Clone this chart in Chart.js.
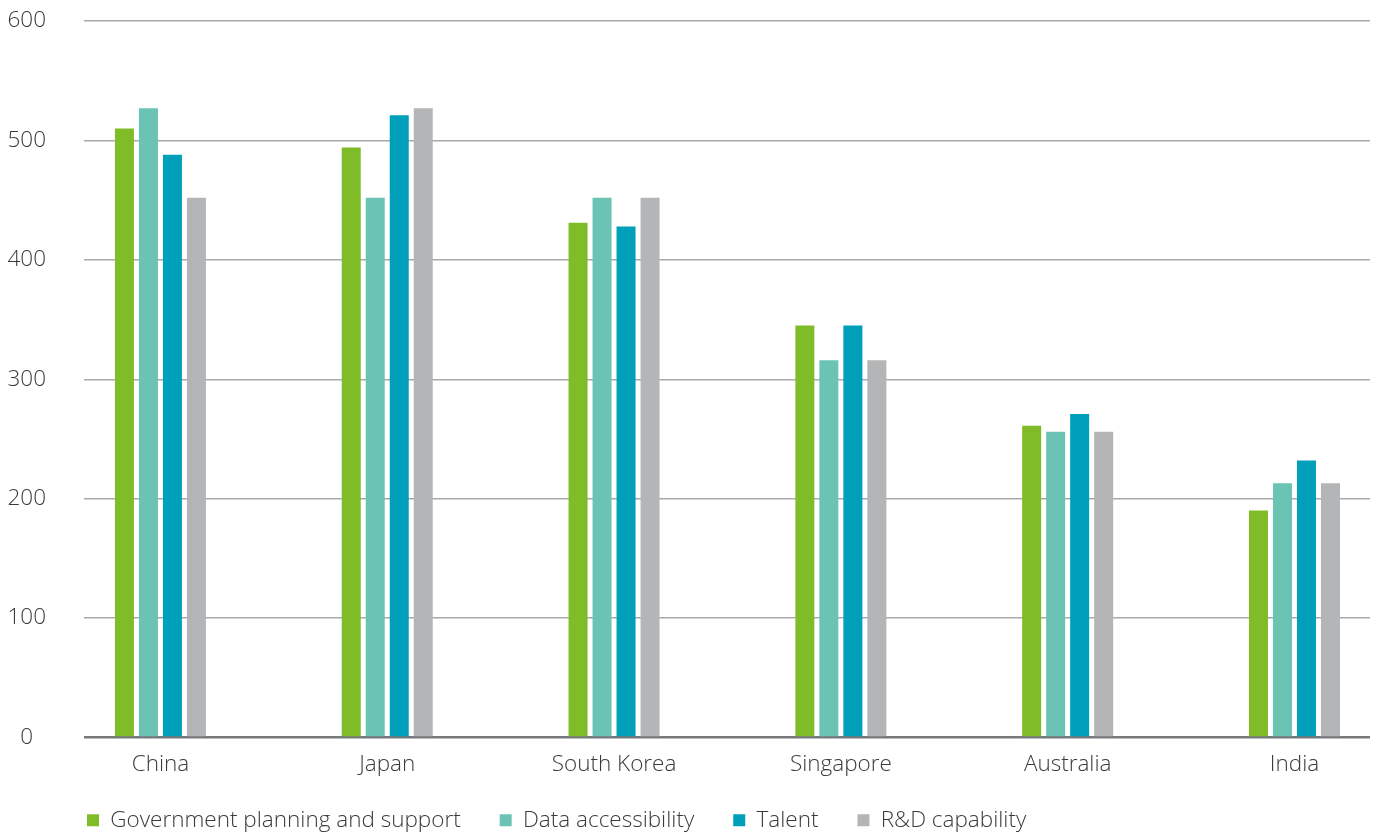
<!DOCTYPE html>
<html><head><meta charset="utf-8">
<script src="https://cdn.jsdelivr.net/npm/chart.js@4"></script>
<style>html,body{margin:0;padding:0;background:#fff}#wrap{width:1376px;height:832px;position:relative}</style>
</head><body><div id="wrap"><canvas id="c"></canvas></div>
<script>
const categories = ['China', 'Japan', 'South Korea', 'Singapore', 'Australia', 'India'];
const seriesNames = ['Government planning and support', 'Data accessibility', 'Talent', 'R&D capability'];
const governmentPlanning = [510, 494, 431, 345, 261, 190];
const dataAccessibility = [527, 452, 452, 316, 256, 213];
const talent = [488, 521, 428, 345, 271, 232];
const rdCapability = [452, 527, 452, 316, 256, 213];
const yTickValues = [0, 100, 200, 300, 400, 500, 600];
const seriesColors = ['#80bc28', '#6bc3b3', '#009fba', '#b4b5b6'];

const FONT = "'Open Sans', 'Noto Sans', sans-serif";
const FONT_SIZE = 22.5;
const TEXT = '#3a3a3a';
const values = [governmentPlanning, dataAccessibility, talent, rdCapability];

// legend block: fixed height, drawn with an offset
const legendLayoutPlugin = {
  id: 'legendLayout',
  beforeLayout(chart) {
    const lg = chart.legend;
    if (lg && !lg._patched) {
      const origFit = lg.fit.bind(lg);
      lg.fit = function () { origFit(); this.height = 44.5; };
      const origDraw = lg.draw.bind(lg);
      lg.draw = function () {
        const l = this.left, t = this.top;
        this.left = l + 48; this.top = t - 17.5;
        origDraw();
        this.left = l; this.top = t;
      };
      lg._patched = true;
    }
  }
};

new Chart(document.getElementById('c'), {
  type: 'bar',
  data: {
    labels: categories,
    datasets: seriesNames.map((n, i) => ({
      label: n,
      data: values[i],
      backgroundColor: seriesColors[i],
      borderWidth: 0,
      categoryPercentage: 0.4233,
      barPercentage: 0.7917
    }))
  },
  plugins: [legendLayoutPlugin],
  options: {
    responsive: true,
    maintainAspectRatio: false,
    animation: false,
    layout: { padding: { top: 21, left: 0, right: 6, bottom: 0 } },
    plugins: {
      tooltip: { enabled: false },
      legend: {
        position: 'bottom',
        align: 'start',
        labels: {
          boxWidth: 12,
          boxHeight: 12,
          padding: 39,
          color: TEXT,
          font: { family: FONT, size: FONT_SIZE, weight: 300 }
        }
      }
    },
    scales: {
      x: {
        afterBuildTicks: (s) => { s._startValue = -0.337; s._valueRange = 5.67; },
        afterFit: (s) => { s.height = 50; s.paddingLeft = 0; s.paddingRight = 0; },
        grid: { display: false, drawTicks: false },
        border: { display: false },
        ticks: { padding: 14, color: TEXT, font: { family: FONT, size: FONT_SIZE, weight: 300 } }
      },
      y: {
        min: yTickValues[0],
        max: yTickValues[yTickValues.length - 1],
        afterFit: (s) => { s.width = 84; s.paddingTop = 0; s.paddingBottom = 0; },
        border: { display: false },
        grid: {
          drawTicks: false,
          color: (ctx) => ctx.tick && ctx.tick.value === 0 ? '#76787b' : '#a9a9a9',
          lineWidth: (ctx) => ctx.tick && ctx.tick.value === 0 ? 2.5 : 1.5
        },
        ticks: { stepSize: 100, padding: 38, crossAlign: 'center', color: TEXT, font: { family: FONT, size: FONT_SIZE, weight: 300 } }
      }
    }
  }
});
</script></body></html>
